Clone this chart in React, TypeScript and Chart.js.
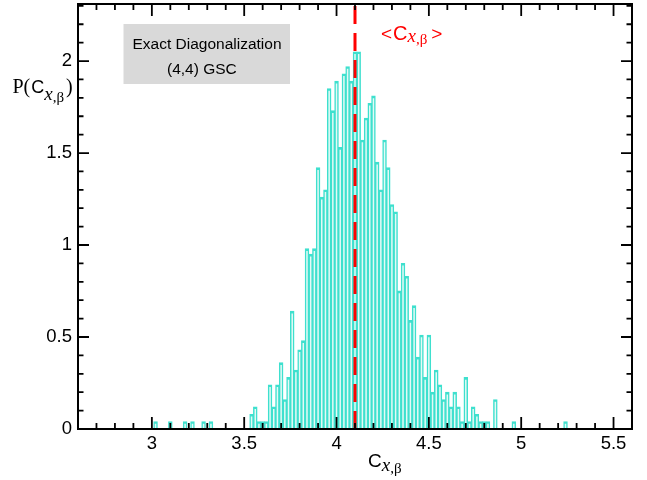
import { useEffect, useRef } from 'react';
import { Chart, registerables } from 'chart.js';

Chart.register(...registerables);

// Histogram bin centres (bin width 0.02) and normalised density P(C)
const binCenters = [
  3.02, 3.10, 3.18, 3.22, 3.28, 3.32,
  3.54, 3.56, 3.58, 3.60, 3.62, 3.64, 3.66, 3.68, 3.70, 3.72, 3.74, 3.76, 3.78, 3.80, 3.82,
  3.84, 3.86, 3.88, 3.90, 3.92, 3.94, 3.96, 3.98, 4.00, 4.02, 4.04, 4.06, 4.08, 4.10, 4.12,
  4.14, 4.16, 4.18, 4.20, 4.22, 4.24, 4.26, 4.28, 4.30, 4.32, 4.34, 4.36, 4.38, 4.40, 4.42,
  4.44, 4.46, 4.48, 4.50, 4.52, 4.54, 4.56, 4.58, 4.60, 4.62, 4.64, 4.66, 4.68, 4.70, 4.72,
  4.74, 4.76, 4.78, 4.80, 4.82, 4.86, 4.96, 5.24,
];
const density = [
  0.04, 0.04, 0.04, 0.04, 0.04, 0.04,
  0.08, 0.12, 0.04, 0.04, 0.04, 0.24, 0.12, 0.24, 0.36, 0.16, 0.28, 0.64, 0.32, 0.43, 0.48,
  0.98, 0.95, 0.98, 1.42, 1.26, 1.30, 1.85, 1.73, 1.89, 1.53, 1.93, 1.97, 1.89, 2.05, 2.05,
  1.57, 1.69, 1.77, 1.81, 1.45, 1.30, 1.57, 1.42, 1.22, 1.18, 0.75, 0.90, 0.83, 0.59, 0.67,
  0.39, 0.51, 0.28, 0.51, 0.20, 0.32, 0.24, 0.16, 0.20, 0.12, 0.20, 0.12, 0.04, 0.28, 0.04,
  0.12, 0.08, 0.04, 0.04, 0.04, 0.16, 0.04, 0.04,
];
const meanValue = 4.1;

const xRange = [2.6, 5.6];
const yRange = [0, 2.31];
const xTickValues = [3, 3.5, 4, 4.5, 5, 5.5];
const xTickLabels = ['3', '3.5', '4', '4.5', '5', '5.5'];
const yTickValues = [0, 0.5, 1, 1.5, 2];
const yTickLabels = ['0', '0.5', '1', '1.5', '2'];
const minorStep = 0.1;
const legendLines = ['Exact Diagonalization', '(4,4) GSC'];

const SANS = '"Liberation Sans", Arial, Helvetica, sans-serif';
const SERIF = '"Liberation Serif", "Times New Roman", serif';

type Run = { text: string; font: string; dy: number; gap?: number };

function drawRuns(ctx: CanvasRenderingContext2D, runs: Run[], x: number, y: number, color: string) {
  ctx.save();
  ctx.fillStyle = color;
  ctx.textBaseline = 'alphabetic';
  ctx.textAlign = 'left';
  let cx = x;
  for (const r of runs) {
    cx += r.gap || 0;
    ctx.font = r.font;
    ctx.fillText(r.text, cx, y + r.dy);
    cx += ctx.measureText(r.text).width;
  }
  ctx.restore();
}

const decorPlugin = {
  id: 'decor',
  afterDatasetsDraw(chart: any) {
    const { ctx, chartArea } = chart;
    const { left, right, top, bottom } = chartArea;
    const xs = chart.scales.x;
    const ys = chart.scales.y;
    ctx.save();
    ctx.strokeStyle = '#000';
    ctx.lineWidth = 1.8;
    ctx.beginPath();
    // x ticks (inward, bottom and top)
    const x0 = Math.ceil(xRange[0] / minorStep - 1e-6);
    const x1 = Math.floor(xRange[1] / minorStep + 1e-6);
    for (let k = x0; k <= x1; k++) {
      const v = k * minorStep;
      const px = xs.getPixelForValue(v);
      if (px <= left + 1 || px >= right - 1) continue;
      const len = k % 5 === 0 ? 12 : 6;
      ctx.moveTo(px, bottom);
      ctx.lineTo(px, bottom - len);
      ctx.moveTo(px, top);
      ctx.lineTo(px, top + len);
    }
    const y0 = Math.ceil(yRange[0] / minorStep - 1e-6);
    const y1 = Math.floor(yRange[1] / minorStep + 1e-6);
    for (let k = y0; k <= y1; k++) {
      const v = k * minorStep;
      const py = ys.getPixelForValue(v);
      if (py >= bottom - 1 || py <= top + 1) continue;
      const len = k % 5 === 0 ? 11 : 5.5;
      ctx.moveTo(left, py);
      ctx.lineTo(left + len, py);
      ctx.moveTo(right, py);
      ctx.lineTo(right - len, py);
    }
    ctx.stroke();
    ctx.lineWidth = 2;
    ctx.strokeRect(left, top, right - left, bottom - top);
    ctx.restore();
  },
  afterDraw(chart: any) {
    const { ctx } = chart;
    // Legend box
    ctx.save();
    ctx.fillStyle = '#d9d9d9';
    ctx.fillRect(123.5, 24, 166.5, 60);
    ctx.fillStyle = '#000';
    ctx.font = `15.5px ${SANS}`;
    ctx.textBaseline = 'alphabetic';
    ctx.fillText(legendLines[0], 132.5, 48.5);
    ctx.fillText(legendLines[1], 167, 74);
    ctx.restore();

    // Mean label
    const mx = chart.scales.x.getPixelForValue(meanValue);
    drawRuns(ctx, [
      { text: '<', font: `19px ${SANS}`, dy: 0 },
      { text: 'C', font: `20px ${SANS}`, dy: 0, gap: 1 },
      { text: 'x', font: `italic 19px ${SERIF}`, dy: 2 },
      { text: ',β', font: `15px ${SERIF}`, dy: 4 },
      { text: '>', font: `19px ${SANS}`, dy: 0, gap: 4 },
    ], mx + 26, 40, '#ff0000');

    // y-axis title
    drawRuns(ctx, [
      { text: 'P(', font: `20px ${SERIF}`, dy: 0 },
      { text: 'C', font: `18px ${SANS}`, dy: 0, gap: 1 },
      { text: 'x', font: `italic 19px ${SERIF}`, dy: 7 },
      { text: ',β', font: `15px ${SERIF}`, dy: 9 },
      { text: ')', font: `20px ${SERIF}`, dy: 0, gap: 2 },
    ], 12.5, 93, '#000');

    // x-axis title
    drawRuns(ctx, [
      { text: 'C', font: `19px ${SANS}`, dy: 0 },
      { text: 'x', font: `italic 19px ${SERIF}`, dy: 4 },
      { text: ',β', font: `15px ${SERIF}`, dy: 6 },
    ], 368, 467, '#000');
  },
};

export default function App() {
  const canvasRef = useRef<HTMLCanvasElement | null>(null);

  useEffect(() => {
    const canvas = canvasRef.current;
    if (!canvas) return;
    const bars = binCenters.map((x, i) => ({ x, y: density[i] }));
    const meanLine = [
      { x: meanValue, y: yRange[0] },
      { x: meanValue, y: yRange[1] },
    ];
    const chart = new Chart(canvas, {
      type: 'bar',
      data: {
        datasets: [
          {
            type: 'bar',
            data: bars as any,
            backgroundColor: '#e4faf6',
            borderColor: '#3ee0ce',
            borderWidth: { top: 2.6, left: 1.5, right: 1.5, bottom: 0 } as any,
            borderSkipped: 'start',
            barPercentage: 1,
            categoryPercentage: 1,
            inflateAmount: 0.4,
            order: 2,
          } as any,
          {
            type: 'line',
            data: meanLine as any,
            borderColor: '#ff0000',
            borderWidth: 3,
            borderDash: [18, 9],
            pointRadius: 0,
            fill: false,
            order: 1,
          } as any,
        ],
      },
      options: {
        animation: false,
        responsive: true,
        maintainAspectRatio: false,
        layout: { padding: { left: 0, right: 15, top: 4, bottom: 0 } },
        plugins: {
          legend: { display: false },
          tooltip: { enabled: false },
        },
        scales: {
          x: {
            type: 'linear',
            min: xRange[0],
            max: xRange[1],
            offset: false,
            grid: { display: false, drawTicks: false },
            border: { display: false },
            ticks: {
              autoSkip: false,
              maxRotation: 0,
              padding: 4,
              color: '#000',
              font: { family: SANS, size: 18.5 },
              callback: (_v: any, i: number) => xTickLabels[i],
            },
            afterBuildTicks: (s: any) => {
              s.ticks = xTickValues.map((v) => ({ value: v }));
            },
            afterFit: (s: any) => {
              s.height = 51;
              s.paddingLeft = 0;
              s.paddingRight = 0;
            },
          },
          y: {
            type: 'linear',
            min: yRange[0],
            max: yRange[1],
            grid: { display: false, drawTicks: false },
            border: { display: false },
            ticks: {
              autoSkip: false,
              padding: 6,
              color: '#000',
              font: { family: SANS, size: 18.5 },
              callback: (_v: any, i: number) => yTickLabels[i],
            },
            afterBuildTicks: (s: any) => {
              s.ticks = yTickValues.map((v) => ({ value: v }));
            },
            afterFit: (s: any) => {
              s.width = 78;
              s.paddingTop = 0;
              s.paddingBottom = 0;
            },
          },
        },
      } as any,
      plugins: [decorPlugin],
    });
    return () => chart.destroy();
  }, []);

  return (
    <div style={{ position: 'absolute', left: 0, top: 0, width: 647, height: 480, background: '#fff' }}>
      <canvas ref={canvasRef} />
    </div>
  );
}
